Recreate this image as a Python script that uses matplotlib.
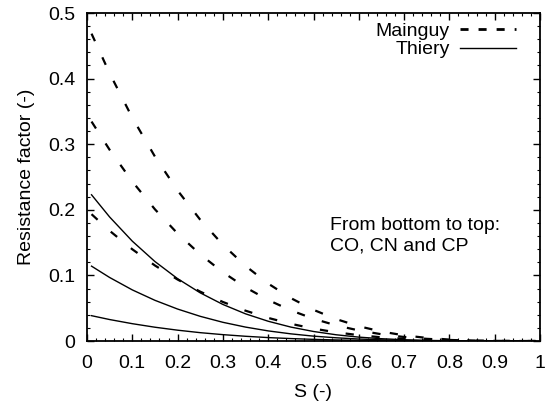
import matplotlib
matplotlib.use("Agg")
import matplotlib.pyplot as plt
from matplotlib.lines import Line2D
from matplotlib.ticker import MultipleLocator

plt.rcParams['font.family'] = ['Liberation Sans', 'DejaVu Sans']

S = [0.01, 0.05, 0.10, 0.15, 0.20, 0.25, 0.30, 0.35, 0.40, 0.45, 0.50,
     0.55, 0.60, 0.65, 0.70, 0.75, 0.80, 0.85, 0.90, 0.95, 0.99]

mainguy_cp = [0.4685, 0.4080, 0.3404, 0.2811, 0.2294, 0.1848, 0.1467, 0.1144, 0.0875, 0.0654, 0.0475,
              0.0334, 0.0225, 0.0144, 0.0086, 0.0047, 0.0022, 0.0008, 0.0002, 0.0000, 0.0000]
mainguy_cn = [0.3345, 0.2914, 0.2431, 0.2007, 0.1638, 0.1320, 0.1048, 0.0817, 0.0625, 0.0467, 0.0339,
              0.0238, 0.0161, 0.0103, 0.0061, 0.0033, 0.0016, 0.0006, 0.0002, 0.0000, 0.0000]
mainguy_co = [0.1933, 0.1680, 0.1398, 0.1151, 0.0937, 0.0752, 0.0595, 0.0462, 0.0352, 0.0262, 0.0189,
              0.0132, 0.0089, 0.0056, 0.0033, 0.0018, 0.0008, 0.0003, 0.0001, 0.0000, 0.0000]

thiery_cp = [0.2229, 0.1890, 0.1522, 0.1211, 0.0950, 0.0734, 0.0557, 0.0414, 0.0301, 0.0212, 0.0145,
             0.0095, 0.0059, 0.0035, 0.0019, 0.0009, 0.0004, 0.0001, 0.0000, 0.0000, 0.0000]
thiery_cn = [0.1141, 0.0968, 0.0779, 0.0620, 0.0487, 0.0376, 0.0285, 0.0212, 0.0154, 0.0109, 0.0074,
             0.0049, 0.0030, 0.0018, 0.0010, 0.0005, 0.0002, 0.0001, 0.0000, 0.0000, 0.0000]
thiery_co = [0.0386, 0.0327, 0.0264, 0.0210, 0.0165, 0.0127, 0.0097, 0.0072, 0.0052, 0.0037, 0.0025,
             0.0016, 0.0010, 0.0006, 0.0003, 0.0002, 0.0001, 0.0000, 0.0000, 0.0000, 0.0000]

x_ticks = [0, 0.1, 0.2, 0.3, 0.4, 0.5, 0.6, 0.7, 0.8, 0.9, 1]
x_tick_labels = ['0', '0.1', '0.2', '0.3', '0.4', '0.5', '0.6', '0.7', '0.8', '0.9', '1']
y_ticks = [0, 0.1, 0.2, 0.3, 0.4, 0.5]
y_tick_labels = ['0', '0.1', '0.2', '0.3', '0.4', '0.5']

FS = 14

fig = plt.figure(figsize=(5.57, 4.08), dpi=100)
ax = fig.add_axes([87/557, 67/408, 453/557, 328/408])

dash_lw = 1.6
dash_pat = [3.7, 8.0]
for ys in (mainguy_co, mainguy_cn, mainguy_cp):
    ln, = ax.plot(S, ys, color='black', lw=dash_lw)
    ln.set_linestyle((0, dash_pat))
    ln.set_dash_capstyle('butt')

for ys in (thiery_co, thiery_cn, thiery_cp):
    ax.plot(S, ys, color='black', lw=1.0)

ax.set_xlim(0, 1)
ax.set_ylim(0, 0.5)
ax.set_xticks(x_ticks)
ax.set_xticklabels(x_tick_labels)
ax.set_yticks(y_ticks)
ax.set_yticklabels(y_tick_labels)
ax.xaxis.set_minor_locator(MultipleLocator(0.02))
ax.yaxis.set_minor_locator(MultipleLocator(0.02))
ax.tick_params(which='both', direction='in', top=True, right=True, labelsize=FS, color='black')
ax.tick_params(which='major', length=5, width=1.0)
ax.tick_params(which='minor', length=2.5, width=0.8)
ax.tick_params(axis='x', pad=10)
ax.tick_params(axis='y', pad=8.5)
for sp in ax.spines.values():
    sp.set_linewidth(1.3)
    sp.set_color('black')

ax.set_xlabel('S (-)', fontsize=FS, labelpad=9)
ax.set_ylabel('Resistance factor (-)', fontsize=FS, labelpad=9)

handles = [Line2D([], [], color='black', lw=2.0, linestyle=(0, [2.9, 3.6]), dash_capstyle='butt'),
           Line2D([], [], color='black', lw=1.0)]
ax.legend(handles, ['Mainguy', 'Thiery'], loc='upper right', frameon=False, fontsize=FS,
          markerfirst=False, handlelength=2.9, handletextpad=0.5, labelspacing=0.05,
          borderaxespad=0.0, borderpad=0.0, bbox_to_anchor=(0.947, 0.972))

ax.text(0.537, 0.2774, 'From bottom to top:\nCO, CN and CP', transform=ax.transAxes,
        fontsize=FS, ha='left', va='baseline', linespacing=1.2)

fig.savefig('out.png', dpi=100, facecolor='white')
